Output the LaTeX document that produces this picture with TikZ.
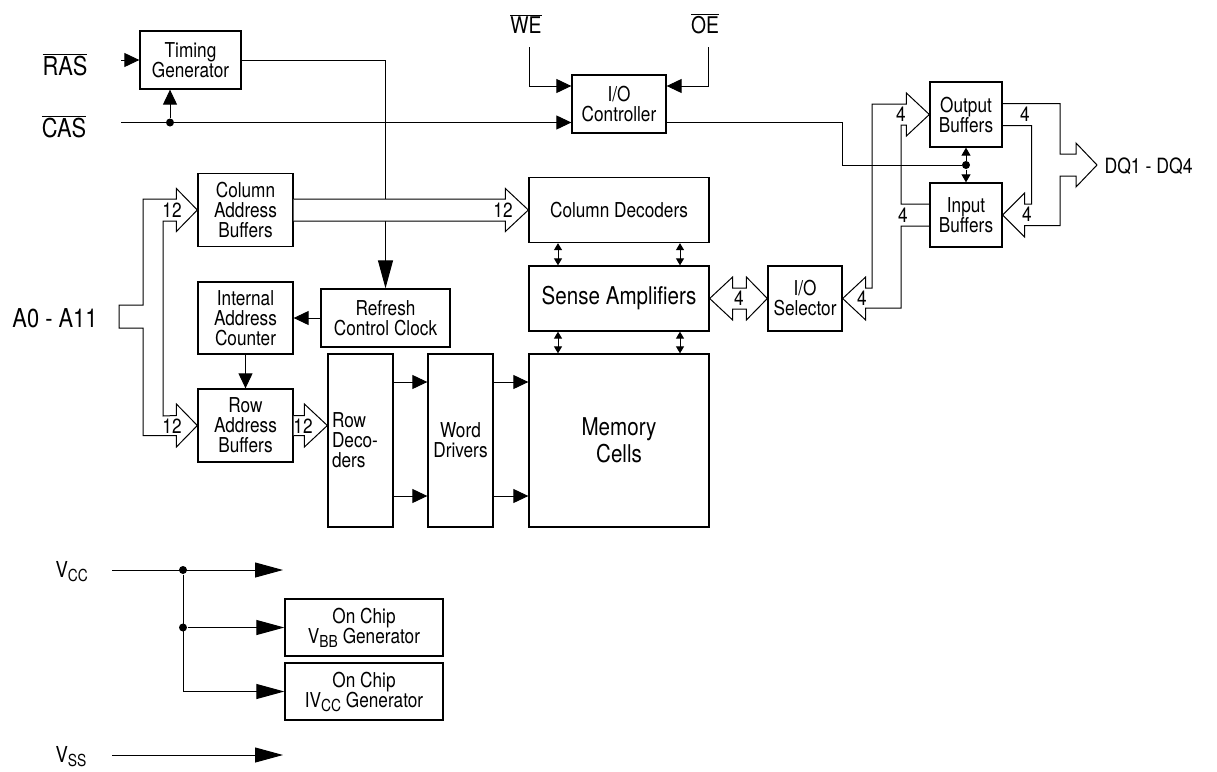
\documentclass[tikz,border=0pt]{standalone}
\usepackage{fontspec}
\setmainfont{TeX Gyre Heros}[FakeStretch=0.84]
\usetikzlibrary{arrows.meta}
\newcommand{\blockfont}{\fontsize{20.5}{20}\selectfont}
\newcommand{\bigblockfont}{\fontsize{24.5}{27}\selectfont}
\newcommand{\pinfont}{\fontsize{26}{26}\selectfont}
\newcommand{\subfont}{\fontsize{16.5}{16}\selectfont}
\newcommand{\sigbar}[1]{$\overline{\mbox{#1}}$}

\begin{document}
\begin{tikzpicture}
[x=1pt,y=-1pt,line width=1pt,%
  blk/.style={draw,line width=1.3pt,align=center,inner sep=0pt,font=\blockfont},%
  pin/.style={inner sep=0pt,font=\pinfont},%
  num/.style={inner sep=0pt,font=\blockfont},%
  arr/.style={-{Triangle[length=15pt,width=14pt]}},%
  longarr/.style={-{Triangle[length=28pt,width=15pt]}},%
  tinyarr/.style={{Triangle[length=7pt,width=8pt]}-{Triangle[length=7pt,width=8pt]}},%
  ctlarr/.style={-{Triangle[length=8pt,width=9pt]}},%
  bus/.style={fill=white},%
  dot/.style={circle,fill,inner sep=0pt,minimum size=8pt}]
\useasboundingbox (0,0) rectangle (1217,771);

% pins
\node[pin,anchor=base] (ras) at (65,75) {\sigbar{RAS}};
\node[pin,anchor=base] (cas) at (64,137) {\sigbar{CAS}};
\node[pin,font=\fontsize{23}{23}\selectfont,anchor=base] (we) at (526,33) {\sigbar{WE}};
\node[pin,font=\fontsize{23}{23}\selectfont,anchor=base] (oe) at (705,33) {\sigbar{OE}};
\node[pin,anchor=base west] (addr) at (12,327) {A0 - A11};
\node[pin,font=\fontsize{21}{21}\selectfont,anchor=base west] (dq) at (1104,173) {DQ1 - DQ4};
\node[pin,font=\fontsize{22}{22}\selectfont,anchor=base west] (vcc) at (55,577)
  {V\raisebox{-4pt}{\subfont CC}};
\node[pin,font=\fontsize{22}{22}\selectfont,anchor=base west] (vss) at (55,762)
  {V\raisebox{-4pt}{\subfont SS}};

\coordinate (rasin) at (121,60);
\coordinate (casin) at (121,122.5);
\coordinate (wein) at (529,47);
\coordinate (oein) at (708,47);
\coordinate (dqtip) at (1097,165);
\coordinate (vccin) at (112,570);
\coordinate (vccout) at (283,570);
\coordinate (vssin) at (112,755);
\coordinate (vssout) at (283,755);

% blocks
\node[blk,minimum width=101,minimum height=58] (tg) at (190.5,60) {Timing\\Generator};
\node[blk,minimum width=94,minimum height=58] (ioc) at (619,104) {I/O\\Controller};
\node[blk,minimum width=95,minimum height=73] (cab) at (245.5,210) {Column\\Address\\Buffers};
\node[blk,minimum width=95,minimum height=72] (iac) at (245.5,318) {Internal\\Address\\Counter};
\node[blk,minimum width=95,minimum height=73] (rab) at (245.5,425.5) {Row\\Address\\Buffers};
\node[blk,minimum width=129,minimum height=58] (rcc) at (385.5,318) {Refresh\\Control Clock};
\node[blk,minimum width=65,minimum height=173,text width=57,align=left] (rdec) at (360.5,440.5)
  {Row\\Deco-\\ders};
\node[blk,minimum width=65,minimum height=173] (wd) at (460.5,440.5) {Word\\Drivers};
\node[blk,minimum width=180,minimum height=173,font=\bigblockfont] (mem) at (619,440.5)
  {Memory\\Cells};
\node[blk,minimum width=180,minimum height=65] (cdec) at (619,210) {Column Decoders};
\node[blk,minimum width=180,minimum height=65,font=\bigblockfont] (sa) at (619,298.5)
  {Sense Amplifiers};
\node[blk,minimum width=74,minimum height=65] (ios) at (805,298.5) {I/O\\Selector};
\node[blk,minimum width=72,minimum height=65] (ob) at (966,114.5) {Output\\Buffers};
\node[blk,minimum width=72,minimum height=64] (ib) at (966,215) {Input\\Buffers};
\node[blk,minimum width=158,minimum height=57] (vbb) at (364,627.5)
  {On Chip\\V\raisebox{-4pt}{\subfont BB} Generator};
\node[blk,minimum width=158,minimum height=57] (ivcc) at (364,691.5)
  {On Chip\\IV\raisebox{-4pt}{\subfont CC} Generator};

% control lines
\draw[arr] (rasin) -- (rasin -| tg.west);
\draw[arr] (casin) -- (casin -| ioc.west);
\node[dot] (casdot) at (170,122.5) {};
\draw[arr] (casdot) -- (casdot |- tg.south);
\draw[longarr] (tg.east) -| (rcc.north);
\draw[arr] (wein) |- ([shift={(0,-18)}]ioc.west);
\draw[arr] (oein) |- ([shift={(0,-18)}]ioc.east);
\node[dot] (bufdot) at (966,165) {};
\draw (casin -| ioc.east) -| (842,165) -- (bufdot);
\draw[ctlarr] (bufdot) -- (ob.south);
\draw[ctlarr] (bufdot) -- (ib.north);
\draw[arr] (rcc.west) -- (iac.east);
\draw[arr] (iac.south) -- (rab.north);
\draw[arr] ([shift={(0,-58.5)}]rdec.east) -- ([shift={(0,-58.5)}]wd.west);
\draw[arr] ([shift={(0,55.5)}]rdec.east) -- ([shift={(0,55.5)}]wd.west);
\draw[arr] ([shift={(0,-58.5)}]wd.east) -- ([shift={(0,-58.5)}]mem.west);
\draw[arr] ([shift={(0,55.5)}]wd.east) -- ([shift={(0,55.5)}]mem.west);
\draw[tinyarr] ([shift={(-61,0)}]cdec.south) -- ([shift={(-61,0)}]sa.north);
\draw[tinyarr] ([shift={(61,0)}]cdec.south) -- ([shift={(61,0)}]sa.north);
\draw[tinyarr] ([shift={(-61,0)}]sa.south) -- ([shift={(-61,0)}]mem.north);
\draw[tinyarr] ([shift={(61,0)}]sa.south) -- ([shift={(61,0)}]mem.north);

% address buses
\draw[bus] (119,305) -- (143,305) |- ([shift={(-21,-11)}]cab.west)
  -- ([shift={(-21,-21.5)}]cab.west) -- (cab.west) -- ([shift={(-21,21.5)}]cab.west)
  -- ([shift={(-21,11)}]cab.west) -| (163,416) -- ([shift={(-21,-10)}]rab.west)
  -- ([shift={(-21,-21.5)}]rab.west) -- (rab.west) -- ([shift={(-21,21.5)}]rab.west)
  -- ([shift={(-21,10)}]rab.west) -| (143,328) -- (119,328) -- cycle;
\node[num] at (172,210) {12};
\node[num] at (172,426) {12};
\draw[bus] ([shift={(0,-11)}]cab.east) -- ([shift={(-23,-11)}]cdec.west)
  -- ([shift={(-23,-21.5)}]cdec.west) -- (cdec.west) -- ([shift={(-23,21.5)}]cdec.west)
  -- ([shift={(-23,11)}]cdec.west) -- ([shift={(0,11)}]cab.east);
\node[num] at (503,210) {12};
\coordinate (rowtip) at (rdec.west |- rab.east);
\draw[bus] ([shift={(0,-10)}]rab.east) -- ([shift={(-23,-10)}]rowtip)
  -- ([shift={(-23,-21.5)}]rowtip) -- (rowtip) -- ([shift={(-23,21.5)}]rowtip)
  -- ([shift={(-23,10)}]rowtip) -- ([shift={(0,10)}]rab.east);
\node[num] at (303,426) {12};

% data buses
\draw[bus] (sa.east) -- ([shift={(23,-21.5)}]sa.east) -- ([shift={(23,-10.5)}]sa.east)
  -- ([shift={(-21,-10.5)}]ios.west) -- ([shift={(-21,-21.5)}]ios.west) -- (ios.west)
  -- ([shift={(-21,21.5)}]ios.west) -- ([shift={(-21,10.5)}]ios.west)
  -- ([shift={(23,10.5)}]sa.east) -- ([shift={(23,21.5)}]sa.east) -- cycle;
\node[num] at (739,298.5) {4};
\draw ([shift={(0,11)}]ib.west) -| (901,308) -- ([shift={(23,9.5)}]ios.east)
  -- ([shift={(23,21.5)}]ios.east) -- (ios.east) -- ([shift={(23,-21.5)}]ios.east)
  -- ([shift={(23,-10.5)}]ios.east) -| (872,104) -- ([shift={(-23,-10.5)}]ob.west)
  -- ([shift={(-23,-21.5)}]ob.west) -- (ob.west) -- ([shift={(-23,21.5)}]ob.west)
  -- ([shift={(-23,10.5)}]ob.west) -| (901,204) -- ([shift={(0,-11)}]ib.west);
\node[num] at (901,114) {4};
\node[num] at (903,215) {4};
\node[num] at (862,298.5) {4};
\draw ([shift={(0,-11)}]ob.east) -| ([shift={(-37,-11)}]dqtip) -- ([shift={(-21,-11)}]dqtip)
  -- ([shift={(-21,-22)}]dqtip) -- (dqtip) -- ([shift={(-21,22)}]dqtip)
  -- ([shift={(-21,11)}]dqtip) -- ([shift={(-37,11)}]dqtip) |- ([shift={(22,10.5)}]ib.east)
  -- ([shift={(22,22)}]ib.east) -- (ib.east) -- ([shift={(22,-22)}]ib.east)
  -- ([shift={(22,-11)}]ib.east) -| ([shift={(29,11)}]ob.east) -- ([shift={(0,11)}]ob.east);
\node[num] at (1025,114) {4};
\node[num] at (1027,214.5) {4};

% supply
\node[dot] (vd1) at (183,570) {};
\node[dot] (vd2) at (183,627.5) {};
\draw[longarr] (vccin) -- (vccout);
\draw[longarr] (vd2) -- (vbb.west);
\draw[longarr] (vd1) |- (ivcc.west);
\draw[longarr] (vssin) -- (vssout);
\end{tikzpicture}
\end{document}
